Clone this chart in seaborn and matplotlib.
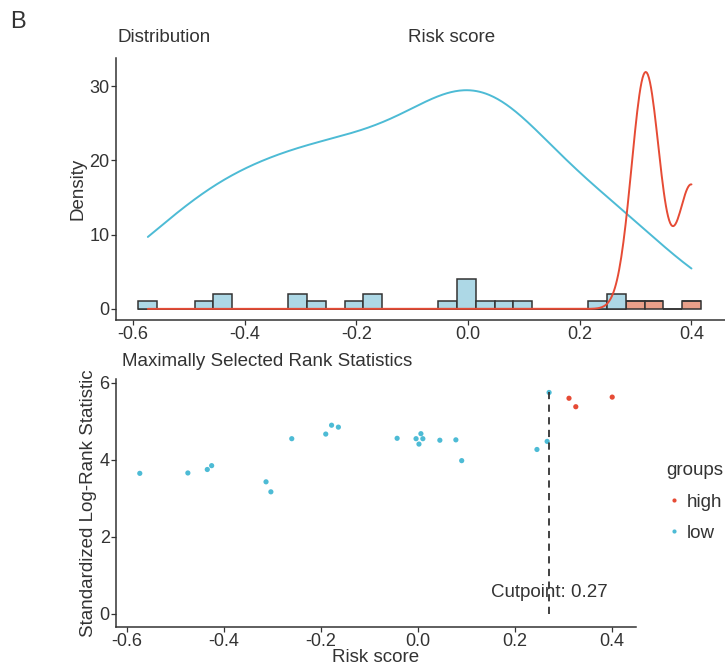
import numpy as np
import pandas as pd
import matplotlib
matplotlib.use("Agg")
import matplotlib.pyplot as plt
import seaborn as sns

# risk scores and standardized log-rank statistics
low_scores = [-0.573, -0.474, -0.434, -0.425, -0.313, -0.303, -0.26, -0.19, -0.178, -0.164,
              -0.043, -0.004, 0.002, 0.006, 0.01, 0.045, 0.078, 0.09, 0.245, 0.266, 0.27]
low_stats = [3.65, 3.66, 3.75, 3.85, 3.43, 3.17, 4.55, 4.67, 4.90, 4.85,
             4.56, 4.55, 4.41, 4.68, 4.55, 4.51, 4.52, 3.98, 4.27, 4.48, 5.75]
high_scores = [0.311, 0.325, 0.40]
high_stats = [5.60, 5.38, 5.63]
cutpoint = 0.27

group_names = ["high", "low"]
line_colors = {"high": "#E64B35", "low": "#4DBBD5"}
fill_colors = {"high": "#E9A08A", "low": "#ADD8E6"}
ink = "#333333"
fs = 13.5

df = pd.DataFrame({
    "score": low_scores + high_scores,
    "stat": low_stats + high_stats,
    "groups": ["low"] * len(low_scores) + ["high"] * len(high_scores),
})
df["groups"] = pd.Categorical(df["groups"], categories=group_names)

sns.set_style("white")
plt.rcParams["font.family"] = ["Liberation Sans", "DejaVu Sans"]
plt.rcParams["text.color"] = ink
plt.rcParams["axes.labelcolor"] = ink
plt.rcParams["xtick.color"] = ink
plt.rcParams["ytick.color"] = ink


def nrd0(x):
    x = np.asarray(x)
    sd = x.std(ddof=1)
    q75, q25 = np.percentile(x, [75, 25])
    lo = min(sd, (q75 - q25) / 1.34)
    return 0.9 * lo * len(x) ** -0.2


def count_density(x, grid):
    # gaussian kde (R's bw.nrd0) scaled to counts
    x = np.asarray(x)
    bw = nrd0(x)
    z = (grid[:, None] - x[None, :]) / bw
    dens = np.exp(-0.5 * z ** 2).sum(axis=1) / (len(x) * bw * np.sqrt(2 * np.pi))
    return dens * len(x)


fig = plt.figure(figsize=(7.25, 6.68), dpi=100)
ax1 = fig.add_axes([116 / 725, 1 - 320 / 668, 609 / 725, 262 / 668])
ax2 = fig.add_axes([116 / 725, 1 - 627 / 668, 520 / 725, 248 / 668])

# --- top: distribution ---
smin, smax = df["score"].min(), df["score"].max()
w = (smax - smin) / 29
edges = smin - w / 2 + w * np.arange(31)
sns.histplot(data=df, x="score", hue="groups", hue_order=["low", "high"], bins=edges,
             multiple="stack", palette=fill_colors, edgecolor=ink, linewidth=1.1,
             alpha=1, legend=False, ax=ax1)

grid = np.linspace(smin, smax, 512)
sns.lineplot(x=grid, y=count_density(low_scores, grid), color=line_colors["low"], lw=1.4, ax=ax1)
sns.lineplot(x=grid, y=count_density(high_scores, grid), color=line_colors["high"], lw=1.4, ax=ax1)

ticks = [-0.6, -0.4, -0.2, 0.0, 0.2, 0.4]
tick_labels = ["-0.6", "-0.4", "-0.2", "0.0", "0.2", "0.4"]

ax1.set_xlim(-0.63, 0.46)
ax1.set_ylim(-1.5, 33.8)
ax1.set_xticks(ticks)
ax1.set_xticklabels(tick_labels)
ax1.set_yticks([0, 10, 20, 30])
ax1.set_xlabel("")
ax1.set_ylabel("Density", fontsize=fs, labelpad=2)

# --- bottom: maximally selected rank statistics ---
sns.scatterplot(data=df, x="score", y="stat", hue="groups", hue_order=group_names,
                palette=line_colors, s=14, linewidth=0, ax=ax2)
ax2.plot([cutpoint, cutpoint], [0, df["stat"].max()], ls=(0, (4, 3)), color=ink, lw=1.3)
ax2.text(cutpoint, 0.55, f"Cutpoint: {cutpoint:.2f}", ha="center", va="center", fontsize=fs)

ax2.set_xlim(-0.622, 0.449)
ax2.set_ylim(-0.34, 6.1)
ax2.set_xticks(ticks)
ax2.set_xticklabels(tick_labels)
ax2.set_yticks([0, 2, 4, 6])
ax2.set_xlabel("Risk score", fontsize=fs, labelpad=-1)
ax2.set_ylabel("Standardized Log-Rank Statistic", fontsize=fs, labelpad=2)

leg = ax2.legend(title="groups", loc="upper left", bbox_to_anchor=(657 / 725, 1 - 453 / 668),
                 bbox_transform=fig.transFigure, frameon=False, fontsize=fs,
                 title_fontsize=fs, markerscale=0.8, borderpad=0, handlelength=0.8,
                 handletextpad=0.3, labelspacing=0.75, alignment="left")

for ax in (ax1, ax2):
    sns.despine(ax=ax)
    for side in ("left", "bottom"):
        ax.spines[side].set_color(ink)
        ax.spines[side].set_linewidth(1.1)
    ax.tick_params(axis="both", length=3.5, width=0.9, labelsize=13, pad=1, bottom=True, left=True)

fig.text(10 / 725, 1 - 22 / 668, "B", fontsize=17, va="center", ha="left")
fig.text(118 / 725, 1 - 37 / 668, "Distribution", fontsize=fs, va="center", ha="left")
fig.text(452 / 725, 1 - 37 / 668, "Risk score", fontsize=fs, va="center", ha="center")
fig.text(122 / 725, 1 - 361 / 668, "Maximally Selected Rank Statistics", fontsize=fs,
         va="center", ha="left")

fig.savefig("out.png", dpi=100)
